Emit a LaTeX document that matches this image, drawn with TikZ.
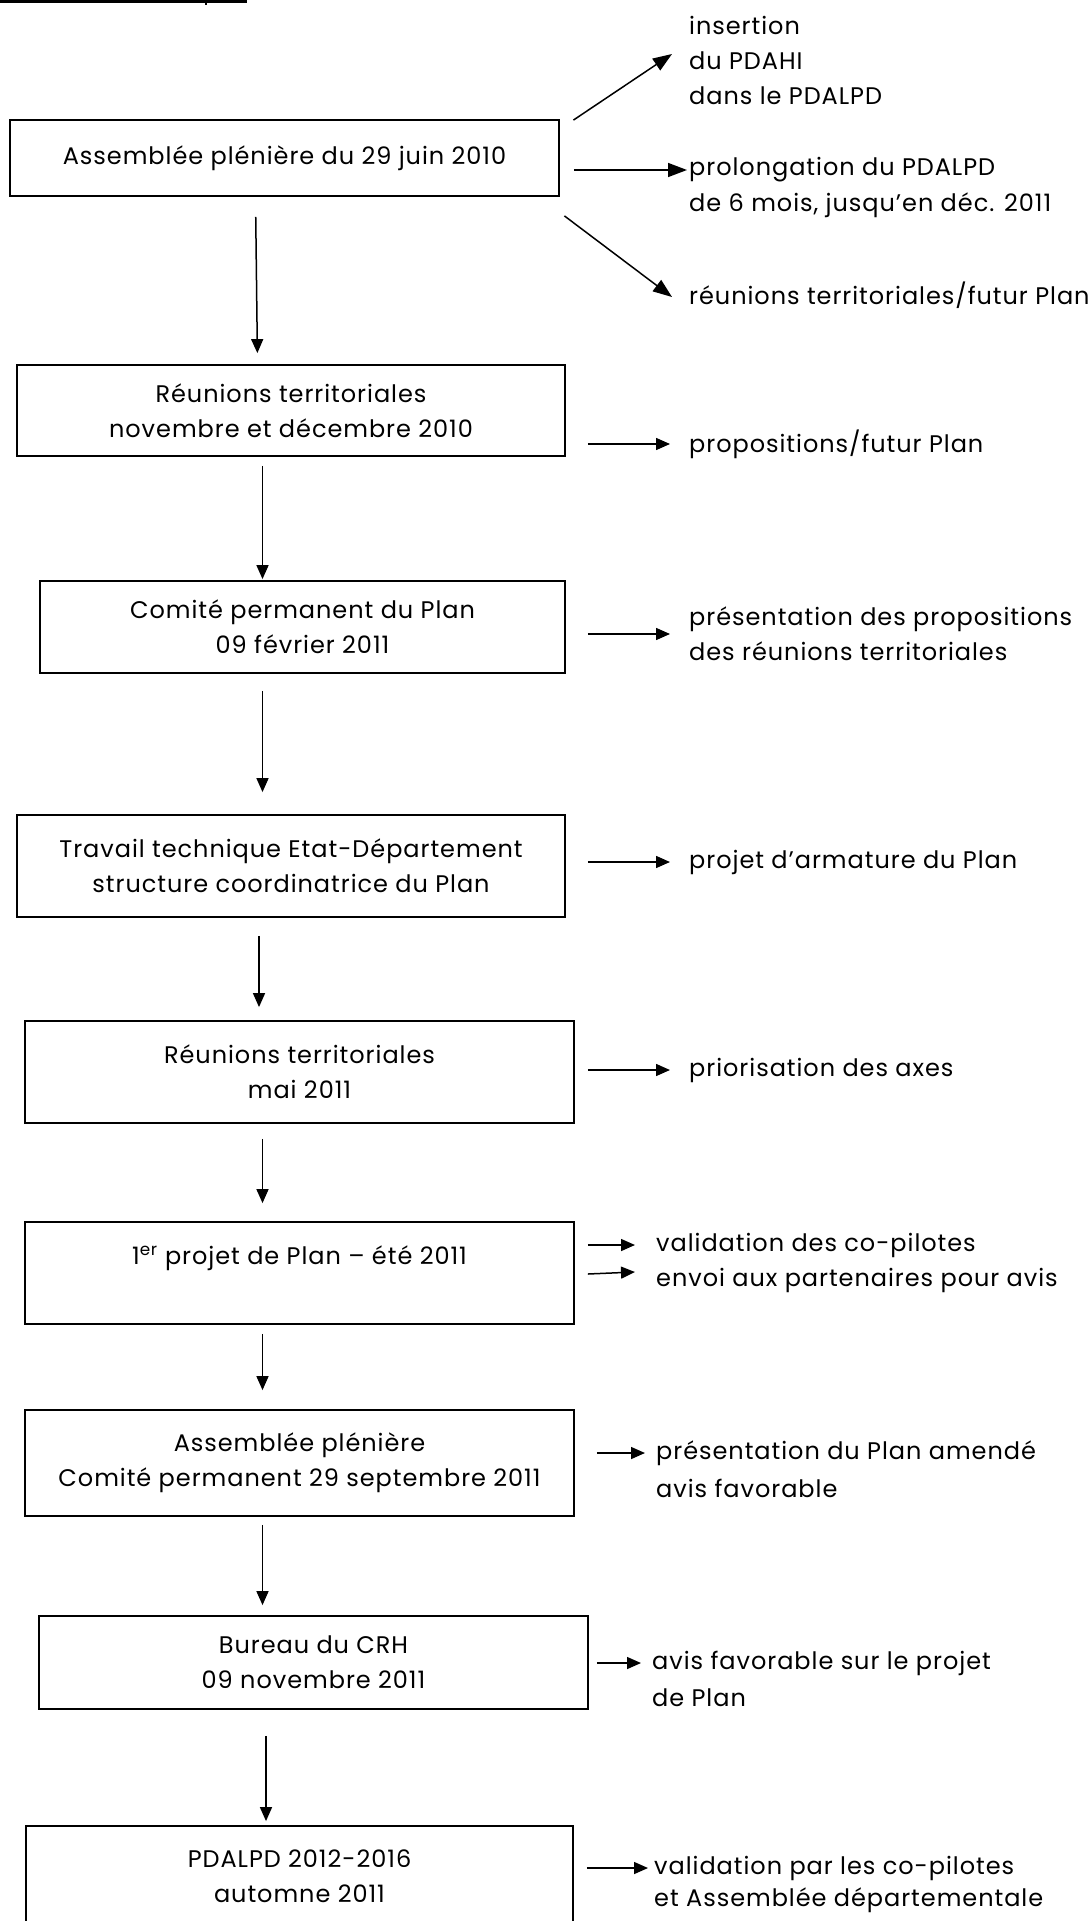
\documentclass[tikz,border=0pt]{standalone}
\usepackage{fontspec}
\setmainfont{Poppins}[LetterSpace=4]
\usetikzlibrary{arrows.meta,calc}

\tikzset{
  etape/.style={draw, line width=1.8pt, align=center, inner sep=0pt},
  note/.style={anchor=west, inner sep=0pt, align=left},
  fleche/.style={line width=1.5pt, -{Triangle[length=14pt,width=12pt]}},
  grande/.style={-{Triangle[length=19pt,width=14pt]}}
}

\begin{document}
\begin{tikzpicture}[x=1pt,y=-1pt,font=\fontsize{24pt}{35pt}\selectfont]
  \useasboundingbox (0,0) rectangle (1088,1921);
  % trait du titre, coupe en haut
  \draw[line width=2.2pt] (0,1.5) -- (247,1.5);
  \draw[line width=2.5pt] (206,0) -- (206,5);

  % etapes
  \node[etape, minimum width=549pt, minimum height=76pt]  (b1) at (284.5,158)  {Assemblée plénière du 29 juin 2010};
  \node[etape, minimum width=548pt, minimum height=91pt]  (b2) at (291,410.5)  {Réunions territoriales\\novembre et décembre 2010};
  \node[etape, minimum width=525pt, minimum height=92pt]  (b3) at (302.5,627)  {Comité permanent du Plan\\09 février 2011};
  \node[etape, minimum width=548pt, minimum height=102pt] (b4) at (291,866)    {Travail technique Etat-Département\\structure coordinatrice du Plan};
  \node[etape, minimum width=549pt, minimum height=102pt] (b5) at (299.5,1072) {Réunions territoriales\\mai 2011};
  \node[etape, minimum width=549pt, minimum height=102pt] (b6) at (299.5,1273) {1\textsuperscript{er} projet de Plan – été 2011\\ \mbox{}};
  \node[etape, minimum width=549pt, minimum height=106pt] (b7) at (299.5,1463) {Assemblée plénière\\Comité permanent 29 septembre 2011};
  \node[etape, minimum width=549pt, minimum height=93pt]  (b8) at (313.5,1662.5) {Bureau du CRH\\09 novembre 2011};
  \node[etape, minimum width=547pt, minimum height=101pt] (b9) at (299.5,1876.5) {PDALPD 2012-2016\\automne 2011};

  % textes a droite
  \node[note] (r1a) at (689,60)   {insertion\\du PDAHI\\dans le PDALPD};
  \node[note] (r1b) at (689,170)  {prolongation du PDALPD};
  \node[note] (r1c) at (689,205)  {de 6 mois, jusqu’en déc. 2011};
  \node[note] (r1d) at (689,295)  {réunions territoriales/futur Plan};
  \node[note] (r2)  at (689,444)  {propositions/futur Plan};
  \node[note] (r3)  at (689,634)  {présentation des propositions\\des réunions territoriales};
  \node[note] (r4)  at (689,862)  {projet d’armature du Plan};
  \node[note] (r5)  at (689,1070) {priorisation des axes};
  \node[note] (r6a) at (656,1245) {validation des co-pilotes};
  \node[note] (r6b) at (656,1280) {envoi aux partenaires pour avis};
  \node[note] (r7a) at (656,1453) {présentation du Plan amendé};
  \node[note] (r7b) at (656,1488) {avis favorable};
  \node[note] (r8a) at (652,1663) {avis favorable sur le projet};
  \node[note] (r8b) at (652,1698) {de Plan};
  \node[note] (r9a) at (654,1868) {validation par les co-pilotes};
  \node[note] (r9b) at (654,1900) {et Assemblée départementale};

  % fleches verticales
  \foreach \a/\b/\p/\q/\s/\t in {b1/b2/-29/-33.5/20/11, b2/b3/-28.5/-40/9/1,
      b3/b4/-40/-28.5/17/22, b4/b5/-32/-40.5/18/13, b5/b6/-37/-37/15/18,
      b6/b7/-37/-37/9/19, b7/b8/-37/-51/8/10, b8/b9/-47.5/-33.5/26/4}
    \draw[fleche, shorten <=\s pt, shorten >=\t pt] ([xshift=\p pt]\a.south) -- ([xshift=\q pt]\b.north);

  % fleches vers la droite
  \draw[fleche, grande] ($(b1.north east)+(13.5,1)$) -- ($(r1a.west)+(-17,-6)$);
  \draw[fleche, grande, shorten <=14pt, shorten >=2pt] (b1.east |- r1b.west) -- (r1b.west);
  \draw[fleche, grande] ($(b1.south east)+(4.5,19)$) -- ($(r1d.west)+(-17,2)$);
  \draw[fleche, shorten <=22pt, shorten >=19pt] (b2.east |- r2.west) -- (r2.west);
  \draw[fleche, shorten <=22pt, shorten >=19pt] (b3.east |- r3.west) -- (r3.west);
  \draw[fleche, shorten <=22pt, shorten >=19pt] (b4.east |- r4.west) -- (r4.west);
  \draw[fleche, shorten <=13pt, shorten >=19pt] (b5.east |- r5.west) -- (r5.west);
  \draw[fleche, shorten <=13pt, shorten >=21pt] (b6.east |- r6a.west) -- (r6a.west);
  \draw[fleche] ($(b6.east |- r6b.west)+(13,-6)$) -- ($(r6b.west)+(-21,-8)$);
  \draw[fleche, shorten <=22pt, shorten >=11pt] (b7.east |- r7a.west) -- (r7a.west);
  \draw[fleche, shorten <=8pt, shorten >=11pt] (b8.east |- r8a.west) -- (r8a.west);
  \draw[fleche, shorten <=13pt, shorten >=6pt] (b9.east |- r9a.west) -- (r9a.west);
\end{tikzpicture}
\end{document}
